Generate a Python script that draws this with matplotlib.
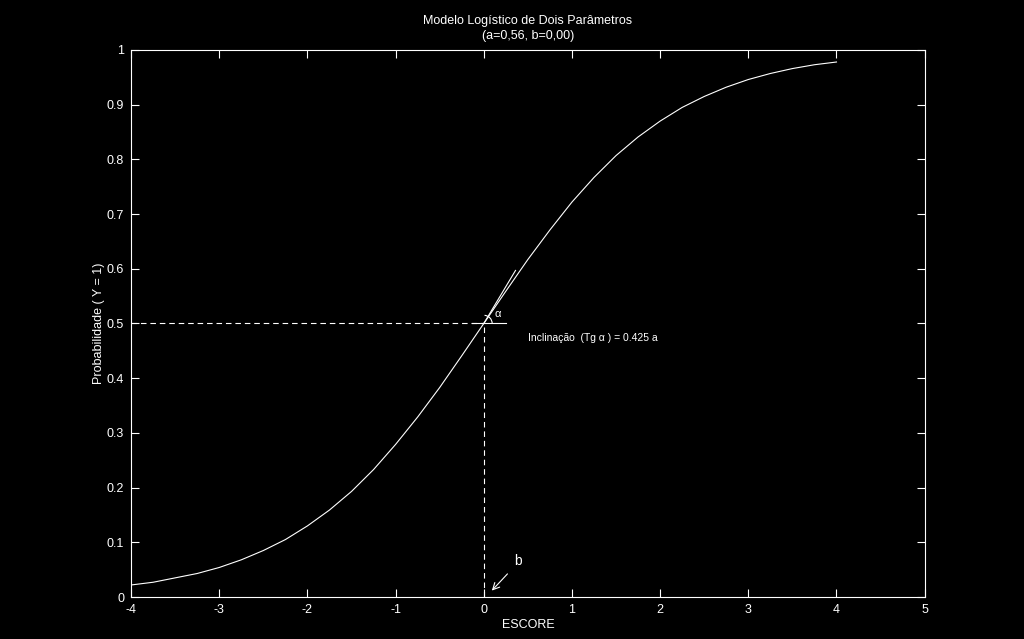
import matplotlib
matplotlib.use("Agg")
import matplotlib.pyplot as plt
from matplotlib.patches import Arc

# curve values
escore = [-4.0, -3.75, -3.5, -3.25, -3.0, -2.75, -2.5, -2.25, -2.0, -1.75, -1.5,
          -1.25, -1.0, -0.75, -0.5, -0.25, 0.0, 0.25, 0.5, 0.75, 1.0, 1.25, 1.5,
          1.75, 2.0, 2.25, 2.5, 2.75, 3.0, 3.25, 3.5, 3.75, 4.0]
prob = [0.022, 0.027, 0.035, 0.043, 0.054, 0.068, 0.085, 0.105, 0.130, 0.159, 0.193,
        0.233, 0.279, 0.329, 0.383, 0.441, 0.500, 0.559, 0.617, 0.671, 0.722, 0.767,
        0.807, 0.841, 0.870, 0.895, 0.915, 0.932, 0.946, 0.957, 0.966, 0.973, 0.978]

b_param = 0.0
p_half = 0.5
tangent_x = [0.0, 0.36]
tangent_y = [0.5, 0.597]

xticks = [-4, -3, -2, -1, 0, 1, 2, 3, 4, 5]
yticks = [0, 0.1, 0.2, 0.3, 0.4, 0.5, 0.6, 0.7, 0.8, 0.9, 1]
ytick_labels = ["0", "0.1", "0.2", "0.3", "0.4", "0.5", "0.6", "0.7", "0.8", "0.9", "1"]

plt.rcParams["font.family"] = ["Liberation Sans", "DejaVu Sans"]
plt.rcParams["axes.unicode_minus"] = False
fg = "white"

fig = plt.figure(figsize=(10.24, 6.39), dpi=100, facecolor="black")
ax = fig.add_axes([0.128, 0.0657, 0.775, 0.8561], facecolor="black")

ax.plot(escore, prob, color=fg, lw=0.8)
ax.plot(tangent_x, tangent_y, color=fg, lw=0.8)

# guide lines
ax.plot([-4, b_param], [p_half, p_half], color=fg, lw=0.8, dashes=(5, 3.5))
ax.plot([b_param, b_param], [0, p_half], color=fg, lw=0.8, dashes=(5, 3.5))
ax.plot([-0.13, 0.25], [p_half, p_half], color=fg, lw=0.8)

ax.add_patch(Arc((b_param, p_half), 0.19, 0.03, theta1=0, theta2=60, color=fg, lw=0.8))
ax.text(0.12, 0.517, "\u03b1", color=fg, fontsize=8, ha="left", va="center")
ax.text(0.5, 0.473, "Inclinação  (Tg \u03b1 ) = 0.425 a", color=fg, fontsize=7.5,
        ha="left", va="center")

ax.annotate("", xy=(0.07, 0.008), xytext=(0.29, 0.046),
            arrowprops=dict(arrowstyle="->", color=fg, lw=0.8, mutation_scale=12))
ax.text(0.35, 0.066, "b", color=fg, fontsize=10, ha="left", va="center")

ax.set_xlim(-4, 5)
ax.set_ylim(0, 1)
ax.set_xticks(xticks)
ax.set_yticks(yticks)
ax.set_yticklabels(ytick_labels)
ax.tick_params(direction="in", length=6, width=0.8, colors=fg, labelsize=9,
               top=True, right=True, pad=5)
for sp in ax.spines.values():
    sp.set_color(fg)
    sp.set_linewidth(0.8)

ax.set_title("Modelo Logístico de Dois Parâmetros\n(a=0,56, b=0,00)", color=fg,
             fontsize=9, pad=8, linespacing=1.3)
ax.set_xlabel("ESCORE", color=fg, fontsize=9, labelpad=2)
ax.set_ylabel("Probabilidade ( Y = 1)", color=fg, fontsize=9, labelpad=1)

fig.savefig("out.png", dpi=100, facecolor="black")
